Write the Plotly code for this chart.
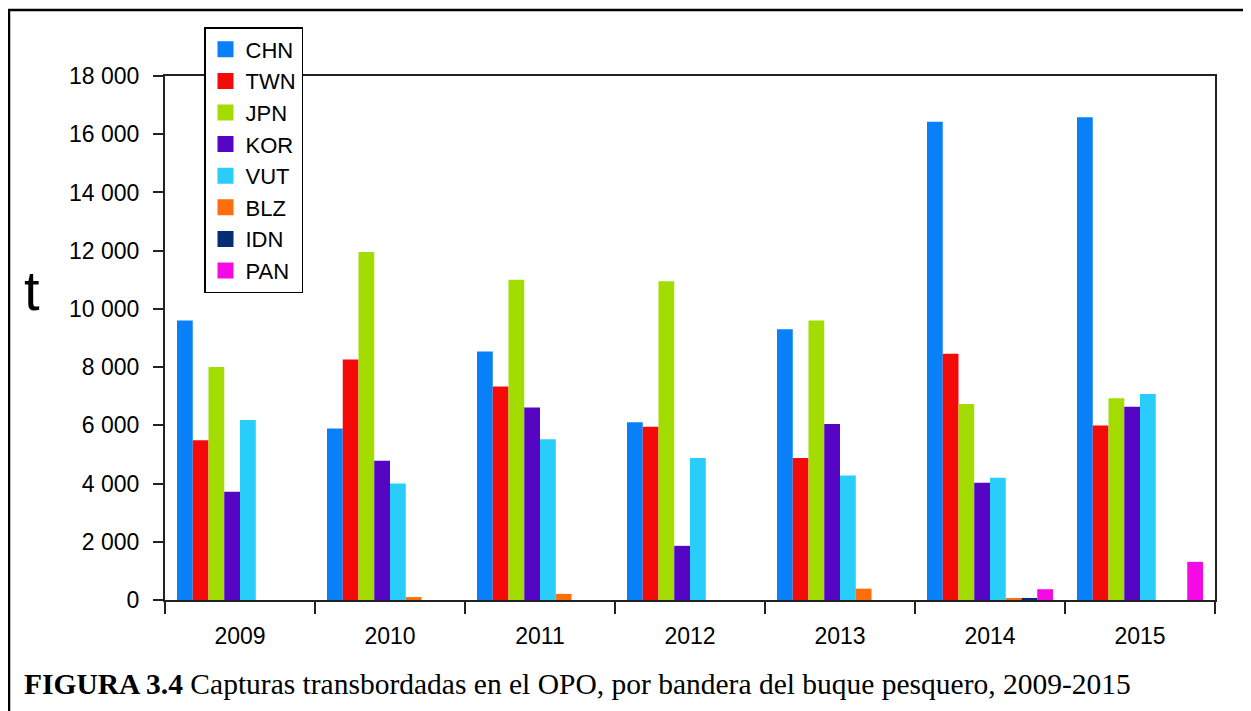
import plotly.graph_objects as go

years = ["2009", "2010", "2011", "2012", "2013", "2014", "2015"]
flags = ["CHN", "TWN", "JPN", "KOR", "VUT", "BLZ", "IDN", "PAN"]

CHN = [9600, 5890, 8540, 6110, 9300, 16430, 16580]
TWN = [5490, 8260, 7330, 5950, 4880, 8460, 5990]
JPN = [8000, 11950, 11000, 10950, 9600, 6730, 6930]
KOR = [3720, 4780, 6610, 1860, 6050, 4030, 6640]
VUT = [6180, 4000, 5520, 4880, 4280, 4200, 7080]
BLZ = [0, 100, 210, 0, 390, 45, 0]
IDN = [0, 0, 0, 0, 0, 70, 0]
PAN = [0, 0, 0, 0, 0, 370, 1310]

series = [CHN, TWN, JPN, KOR, VUT, BLZ, IDN, PAN]
colors = ["#0880F8", "#F50A0A", "#A2DC00", "#5505C3", "#28CDFA", "#FF6E0A", "#052D73", "#F50AE6"]

ytick_vals = [0, 2000, 4000, 6000, 8000, 10000, 12000, 14000, 16000, 18000]
ytick_text = ["0", "2 000", "4 000", "6 000", "8 000", "10 000", "12 000", "14 000", "16 000", "18 000"]

caption_bold = "FIGURA 3.4"
caption_rest = " Capturas transbordadas en el OPO, por bandera del buque pesquero, 2009-2015"

fig = go.Figure()
for name, vals, col in zip(flags, series, colors):
    fig.add_trace(go.Bar(x=years, y=vals, name=name, showlegend=False,
                         marker=dict(color=col, line=dict(width=0))))
# legend entries with larger square swatches
for name, col in zip(flags, colors):
    fig.add_trace(go.Scatter(x=[None], y=[None], name=name, mode="markers",
                             marker=dict(symbol="square", size=16, color=col)))

# page offset (body margin) is 8px
OFF = 8
W, H = 1243, 703
L, T = 165 - OFF, 76 - OFF
R = W - (1215 - OFF)
B = H - (600 - OFF)
pw, ph = W - L - R, H - T - B

def px_x(x):
    return (x - OFF - L) / pw

def px_y(y):
    return (H - B - (y - OFF)) / ph

fig.update_layout(
    width=W, height=H,
    margin=dict(l=L, r=R, t=T, b=B),
    paper_bgcolor="white", plot_bgcolor="white",
    barmode="group", bargap=0.16, bargroupgap=0,
    font=dict(family="Liberation Sans, Arial, sans-serif", size=22, color="black"),
    showlegend=True,
    legend=dict(
        x=px_x(204), y=px_y(27), xanchor="left", yanchor="top",
        bgcolor="white", bordercolor="black", borderwidth=1.5,
        font=dict(size=22), traceorder="normal",
    ),
    xaxis=dict(
        showgrid=False, showline=True, linecolor="#222", linewidth=2, mirror=True,
        ticks="outside", ticklen=12, tickwidth=1.5, tickcolor="#222",
        tickson="boundaries", tickfont=dict(size=23), ticklabelstandoff=14,
    ),
    yaxis=dict(
        range=[0, 18000], showgrid=False, showline=True, linecolor="#222", linewidth=2, mirror=True,
        ticks="outside", ticklen=10, tickwidth=1.5, tickcolor="#222",
        tickvals=ytick_vals, ticktext=ytick_text, tickfont=dict(size=23),
        ticklabelstandoff=9, zeroline=False,
    ),
    shapes=[dict(
        type="rect", xref="paper", yref="paper",
        x0=px_x(9), x1=px_x(1270), y0=px_y(730), y1=px_y(10),
        line=dict(color="black", width=2.5), fillcolor="rgba(0,0,0,0)", layer="below",
    )],
    annotations=[
        dict(text="t", xref="paper", yref="paper", x=px_x(32), y=px_y(290),
             xanchor="center", yanchor="middle", showarrow=False,
             font=dict(size=56, family="Liberation Sans, Arial, sans-serif")),
        dict(text="<b>" + caption_bold + "</b>" + caption_rest, xref="paper", yref="paper",
             x=px_x(22), y=px_y(684), xanchor="left", yanchor="middle", showarrow=False,
             font=dict(size=29.5, family="Liberation Serif, Times New Roman, serif")),
    ],
)

fig.write_html("out.html")
